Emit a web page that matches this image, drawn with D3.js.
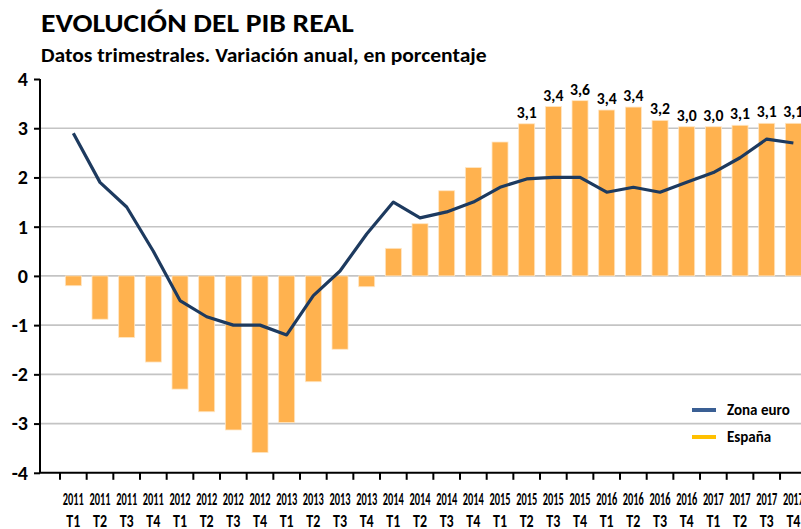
<!DOCTYPE html>
<html>
<head>
<meta charset="utf-8">
<script src="https://cdn.jsdelivr.net/npm/d3@7"></script>
<style>
  body { margin: 0; background: #fff; }
  text { font-family: Carlito, Lato, 'Open Sans', sans-serif; }
</style>
</head>
<body>
<div id="chart"></div>
<script>
// quarterly categories (year / quarter)
const categories = [
  '2011 T1', '2011 T2', '2011 T3', '2011 T4',
  '2012 T1', '2012 T2', '2012 T3', '2012 T4',
  '2013 T1', '2013 T2', '2013 T3', '2013 T4',
  '2014 T1', '2014 T2', '2014 T3', '2014 T4',
  '2015 T1', '2015 T2', '2015 T3', '2015 T4',
  '2016 T1', '2016 T2', '2016 T3', '2016 T4',
  '2017 T1', '2017 T2', '2017 T3', '2017 T4',
];

// España, annual change (%) - bars
const espana = [
  -0.2, -0.88, -1.25, -1.75,
  -2.3, -2.76, -3.13, -3.59,
  -2.98, -2.15, -1.49, -0.22,
  0.56, 1.06, 1.73, 2.2,
  2.72, 3.09, 3.44, 3.56,
  3.37, 3.43, 3.16, 3.03,
  3.03, 3.06, 3.1, 3.1,
];

// Zona euro, annual change (%) - line
const zonaEuro = [
  2.9, 1.9, 1.4, 0.5,
  -0.5, -0.83, -1.0, -1.0,
  -1.2, -0.4, 0.1, 0.85,
  1.5, 1.18, 1.3, 1.5,
  1.8, 1.97, 2.0, 2.0,
  1.7, 1.8, 1.7, 1.9,
  2.1, 2.4, 2.78, 2.7,
];

// first quarter that gets a value label
const firstLabelled = 17;

const yTicks = [-4, -3, -2, -1, 0, 1, 2, 3, 4];
const legendItems = ['Zona euro', 'España'];

const width = 801;
const height = 529;

const barColor = '#ffb24f';
const lineColor = '#1d3a5f';

const svg = d3
  .select('#chart')
  .append('svg')
  .attr('width', width)
  .attr('height', height);

const x = d3
  .scaleBand()
  .domain(d3.range(categories.length))
  .range([60, 806.7])
  .paddingInner(0.4)
  .paddingOuter(0.2);

const y = d3.scaleLinear().domain([-4, 4]).range([472.8, 79]);

const step = x.step();
const cx = (i) => x(i) + x.bandwidth() / 2;

// fit a text horizontally to a given width (Calibri-like proportions)
function squeeze(sel, w) {
  sel.each(function () {
    const len = this.getComputedTextLength();
    const t = d3.select(this);
    const k = w / len;
    t.attr('transform', `translate(${t.attr('x')},${t.attr('y')}) scale(${k},1)`)
      .attr('x', 0)
      .attr('y', 0);
  });
}

// title
svg
  .append('text')
  .attr('x', 41)
  .attr('y', 32)
  .attr('font-size', 26)
  .attr('font-weight', 900)
  .text('EVOLUCIÓN DEL PIB REAL')
  .call(squeeze, 313);

svg
  .append('text')
  .attr('x', 41)
  .attr('y', 62)
  .attr('font-size', 20)
  .attr('font-weight', 700)
  .text('Datos trimestrales. Variación anual, en porcentaje')
  .call(squeeze, 446);

// gridlines
svg
  .append('g')
  .selectAll('line')
  .data(yTicks.filter((d) => d > -4 && d < 4))
  .join('line')
  .attr('x1', 40)
  .attr('x2', width)
  .attr('y1', (d) => y(d))
  .attr('y2', (d) => y(d))
  .attr('stroke', '#c4c4c4')
  .attr('stroke-width', 1.6);

// bars
svg
  .append('g')
  .selectAll('rect')
  .data(espana)
  .join('rect')
  .attr('x', (d, i) => x(i))
  .attr('width', x.bandwidth())
  .attr('y', (d) => y(Math.max(0, d)))
  .attr('height', (d) => Math.abs(y(d) - y(0)))
  .attr('fill', barColor)
  .attr('stroke', '#ffe6c4')
  .attr('stroke-width', 0.8);

// value labels
const fmt = (v) => d3.format('.1f')(v).replace('.', ',');
svg
  .append('g')
  .selectAll('text')
  .data(espana.map((v, i) => ({ v, i })).filter((d) => d.i >= firstLabelled))
  .join('text')
  .attr('x', (d) => cx(d.i))
  .attr('y', (d) => y(d.v) - 6)
  .attr('text-anchor', 'middle')
  .attr('font-size', 15)
  .attr('font-weight', 900)
  .text((d) => fmt(d.v))
  .call(squeeze, 20);

// euro area line
const line = d3
  .line()
  .x((d, i) => cx(i))
  .y((d) => y(d));

svg
  .append('path')
  .datum(zonaEuro)
  .attr('d', line)
  .attr('fill', 'none')
  .attr('stroke', lineColor)
  .attr('stroke-width', 3.2)
  .attr('stroke-linejoin', 'round');

// y axis
const yAxis = d3
  .axisLeft(y)
  .tickValues(yTicks)
  .tickSize(6)
  .tickPadding(6)
  .tickFormat((d) => String(d));

const gy = svg.append('g').attr('transform', 'translate(40,0)').call(yAxis);
gy.select('.domain').attr('stroke', '#000').attr('stroke-width', 2).attr('d', `M0,${y(4)}V${y(-4)}`);
gy.selectAll('.tick line').attr('stroke', '#000').attr('stroke-width', 2);
gy.selectAll('.tick text')
  .attr('font-family', 'Carlito, Lato, sans-serif')
  .attr('font-size', 20)
  .attr('font-weight', 900)
  .attr('fill', '#000');

// x axis
const gx = svg.append('g');
gx.append('line')
  .attr('x1', 39)
  .attr('x2', width)
  .attr('y1', y(-4))
  .attr('y2', y(-4))
  .attr('stroke', '#000')
  .attr('stroke-width', 2);

gx.selectAll('.xtick')
  .data(categories)
  .join('line')
  .attr('class', 'xtick')
  .attr('x1', (d, i) => x(i) - (step - x.bandwidth()) / 2)
  .attr('x2', (d, i) => x(i) - (step - x.bandwidth()) / 2)
  .attr('y1', y(-4))
  .attr('y2', y(-4) + 7)
  .attr('stroke', '#000')
  .attr('stroke-width', 2);

gx.selectAll('.xyear')
  .data(categories)
  .join('text')
  .attr('class', 'xyear')
  .attr('x', (d, i) => cx(i))
  .attr('y', 505)
  .attr('text-anchor', 'middle')
  .attr('font-size', 17)
  .attr('font-weight', 700)
  .text((d) => d.split(' ')[0])
  .call(squeeze, 21);

gx.selectAll('.xq')
  .data(categories)
  .join('text')
  .attr('class', 'xq')
  .attr('x', (d, i) => cx(i))
  .attr('y', 527)
  .attr('text-anchor', 'middle')
  .attr('font-size', 17)
  .attr('font-weight', 700)
  .text((d) => d.split(' ')[1])
  .call(squeeze, 14);

// legend
const legend = svg
  .append('g')
  .selectAll('g')
  .data(legendItems)
  .join('g')
  .attr('transform', (d, i) => `translate(692,${410 + i * 27})`);

legend
  .append('line')
  .attr('x1', 0)
  .attr('x2', 24)
  .attr('stroke', (d, i) => (i === 0 ? '#3a5f94' : '#ffc000'))
  .attr('stroke-width', 4);

legend
  .append('text')
  .attr('x', 35)
  .attr('y', 5)
  .attr('font-size', 15)
  .attr('font-weight', 700)
  .text((d) => d);
</script>
</body>
</html>
